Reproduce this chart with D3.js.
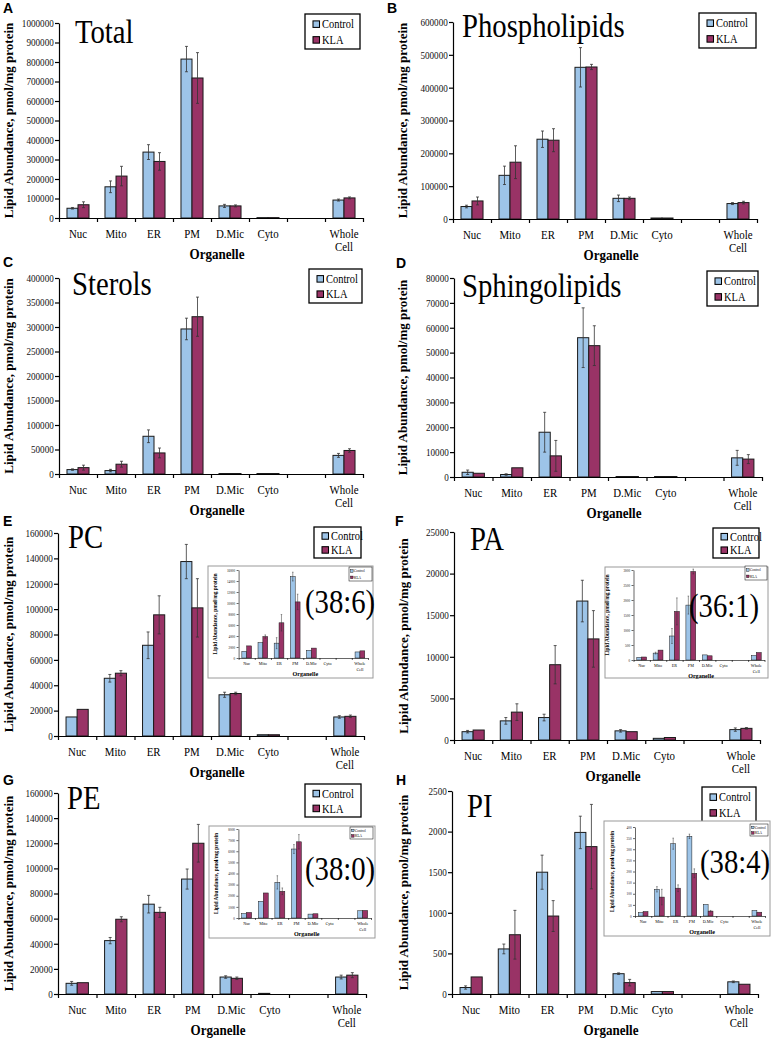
<!DOCTYPE html>
<html><head><meta charset="utf-8">
<script src="https://cdn.jsdelivr.net/npm/d3@7"></script>
<style>body{margin:0;background:#fff}svg{display:block}</style>
</head><body>
<svg id="chart" width="771" height="1038"></svg>
<script>
// ---------------- DATA ----------------
const categories = ["Nuc","Mito","ER","PM","D.Mic","Cyto","","Whole Cell"];
const seriesNames = ["Control","KLA"];

// A Total
const totalControl    = [50000,160000,338000,815000,62000,2000,null,92000];
const totalControlErr = [4000,30000,38000,65000,8000,0,null,5000];
const totalKLA        = [68000,215000,290000,718000,62000,2000,null,103000];
const totalKLAErr     = [15000,50000,45000,130000,5000,0,null,5000];
const totalTicks = [0,100000,200000,300000,400000,500000,600000,700000,800000,900000,1000000];

// B Phospholipids
const phosControl    = [38000,133000,243000,462000,63000,3000,null,47000];
const phosControlErr = [4000,28000,25000,60000,10000,0,null,3000];
const phosKLA        = [55000,173000,240000,463000,63000,3000,null,50000];
const phosKLAErr     = [12000,50000,35000,8000,4000,0,null,4000];
const phosTicks = [0,100000,200000,300000,400000,500000,600000];

// C Sterols
const sterolControl    = [9000,7000,77000,296000,1000,1000,null,38000];
const sterolControlErr = [1500,2500,13000,22000,0,0,null,4000];
const sterolKLA        = [13000,20000,43000,321000,1000,1000,null,48000];
const sterolKLAErr     = [5000,6000,10000,40000,0,0,null,3500];
const sterolTicks = [0,50000,100000,150000,200000,250000,300000,350000,400000];

// D Sphingolipids
const sphingoControl    = [1900,1000,18000,56000,200,200,null,7700];
const sphingoControlErr = [900,300,8000,12000,0,0,null,3000];
const sphingoKLA        = [1500,3700,8500,52800,200,200,null,7200];
const sphingoKLAErr     = [0,0,6200,8000,0,0,null,1800];
const sphingoTicks = [0,10000,20000,30000,40000,50000,60000,70000,80000];

// E PC
const pcControl    = [15000,45500,71500,137500,32500,1000,null,15000];
const pcControlErr = [0,3000,10500,13500,2000,0,null,1000];
const pcKLA        = [21000,49500,95500,101000,33500,1000,null,15500];
const pcKLAErr     = [0,2000,15000,23000,1000,0,null,1000];
const pcTicks = [0,20000,40000,60000,80000,100000,120000,140000,160000];
// E inset PC (38:6)
const pc386Control    = [1200,2800,2700,14800,1400,0,null,1100];
const pc386ControlErr = [0,0,1000,800,0,0,null,0];
const pc386KLA        = [2200,3900,6400,10200,1800,0,null,1300];
const pc386KLAErr     = [0,300,1500,1400,0,0,null,0];
const pc386Ticks = [0,2000,4000,6000,8000,10000,12000,14000,16000];

// F PA
const paControl    = [1000,2300,2700,16700,1100,200,null,1250];
const paControlErr = [150,400,400,2500,150,0,null,200];
const paKLA        = [1200,3350,9050,12150,1000,300,null,1400];
const paKLAErr     = [0,1000,2300,3400,0,0,null,100];
const paTicks = [0,5000,10000,15000,20000,25000];
// F inset PA (36:1)
const pa361Control    = [90,230,800,1830,170,0,null,150];
const pa361ControlErr = [0,30,250,300,0,0,null,0];
const pa361KLA        = [100,330,1620,2950,140,0,null,250];
const pa361KLAErr     = [0,0,450,80,0,0,null,0];
const pa361Ticks = [0,500,1000,1500,2000,2500,3000];

// G PE
const peControl    = [8500,42500,71500,91500,13500,500,null,13500];
const peControlErr = [1500,2500,7000,8000,1000,0,null,1500];
const peKLA        = [9000,59500,65000,120000,12500,0,null,15000];
const peKLAErr     = [0,2000,4000,15000,1000,0,null,2000];
const peTicks = [0,20000,40000,60000,80000,100000,120000,140000,160000];
// G inset PE (38:0)
const pe380Control    = [400,1500,3200,6200,350,0,null,650];
const pe380ControlErr = [0,0,600,400,0,0,null,0];
const pe380KLA        = [500,2250,2400,6850,380,0,null,680];
const pe380KLAErr     = [0,0,300,650,0,0,null,0];
const pe380Ticks = [0,1000,2000,3000,4000,5000,6000,7000,8000];

// H PI
const piControl    = [80,555,1500,1990,250,30,null,150];
const piControlErr = [20,60,210,200,10,0,null,10];
const piKLA        = [210,730,960,1815,140,30,null,120];
const piKLAErr     = [0,300,190,520,40,0,null,0];
const piTicks = [0,500,1000,1500,2000,2500];
// H inset PI (38:4)
const pi384Control    = [15,120,325,358,52,0,null,25];
const pi384ControlErr = [0,12,25,10,0,0,null,0];
const pi384KLA        = [20,85,125,192,22,0,null,17];
const pi384KLAErr     = [0,35,15,20,3,0,null,0];
const pi384Ticks = [0,50,100,150,200,250,300,350,400];

// ---------------- STYLE / LAYOUT ----------------
const COLORS = ["#9dc4e8", "#993366"];
const SERIF = "'Liberation Serif','Times New Roman',Times,serif";
const SANS = "'Liberation Sans',Arial,Helvetica,sans-serif";
const SX = 0.87;
const svg = d3.select("#chart");

function htext(g, x, y, str, size, opts = {}) {
  return g.append("text")
    .attr("transform", `translate(${x},${y}) scale(${SX},1)`)
    .attr("font-family", opts.family || SERIF)
    .attr("font-size", size)
    .attr("font-weight", opts.weight || "normal")
    .attr("text-anchor", opts.anchor || "start")
    .attr("fill", opts.fill || "#000")
    .text(str);
}

const MAIN = {tickFont:10.5, tickSize:4, catFont:12.5, catOff:20, catLine:13, orgFont:15, orgOff:41,
  yTitleFont:13, barFrac:0.29, stroke:1, errW:0.8, cap:3, axisW:1.2, xTick:4};
const INSET = {tickFont:3.8, tickSize:2, catFont:4.8, catOff:7, catLine:5.5, orgFont:7, orgOff:17.5,
  yTitleFont:5.4, barFrac:0.3, stroke:0.5, errW:0.5, cap:1.5, axisW:0.6, xTick:2};

function drawPlot(p, S) {
  const g = svg.append("g");
  const idx = d3.range(categories.length);
  const x = d3.scaleBand().domain(idx).range([p.x0, p.x1]).padding(0);
  const xb = d3.scaleLinear().domain([0, categories.length]).range([p.x0, p.x1]);
  const y = d3.scaleLinear().domain([0, d3.max(p.ticks)]).range([p.yBot, p.yTop]);
  const bw = x.bandwidth() * S.barFrac;

  // bars
  const series = [{v:p.ctrl, e:p.ctrlErr, off:-bw, c:COLORS[0]}, {v:p.kla, e:p.klaErr, off:0, c:COLORS[1]}];
  series.forEach(s => {
    const data = idx.filter(i => s.v[i] != null).map(i => ({i, v:s.v[i], e:s.e[i]}));
    g.selectAll(null).data(data).enter().append("rect")
      .attr("x", d => x(d.i) + x.bandwidth()/2 + s.off)
      .attr("y", d => y(d.v))
      .attr("width", bw)
      .attr("height", d => Math.max(0, y(0) - y(d.v)))
      .attr("fill", s.c).attr("stroke", "#1a1a1a").attr("stroke-width", S.stroke);
    const ed = data.filter(d => d.e > 0);
    const cx = d => x(d.i) + x.bandwidth()/2 + s.off + bw/2;
    g.selectAll(null).data(ed).enter().append("line")
      .attr("x1", cx).attr("x2", cx)
      .attr("y1", d => y(d.v - d.e)).attr("y2", d => y(d.v + d.e))
      .attr("stroke", "#333").attr("stroke-width", S.errW);
    ["-", "+"].forEach(sg => {
      g.selectAll(null).data(ed).enter().append("line")
        .attr("x1", d => cx(d) - S.cap/2).attr("x2", d => cx(d) + S.cap/2)
        .attr("y1", d => y(sg === "+" ? d.v + d.e : d.v - d.e))
        .attr("y2", d => y(sg === "+" ? d.v + d.e : d.v - d.e))
        .attr("stroke", "#333").attr("stroke-width", S.errW);
    });
  });

  // y axis
  const ya = g.append("g").attr("transform", `translate(${p.x0},0)`)
    .call(d3.axisLeft(y).tickValues(p.ticks).tickSize(S.tickSize).tickSizeOuter(0).tickFormat(d3.format("d")));
  ya.select(".domain").attr("stroke", "#000").attr("stroke-width", S.axisW);
  ya.selectAll(".tick line").attr("stroke", "#000").attr("stroke-width", S.axisW);
  ya.selectAll(".tick text").attr("font-family", SERIF).attr("font-size", S.tickFont)
    .attr("fill", "#111").attr("x", -(S.tickSize + 2)).attr("transform", `scale(${SX},1)`);

  // x axis
  const xa = g.append("g").attr("transform", `translate(0,${p.yBot})`)
    .call(d3.axisBottom(xb).tickValues(d3.range(categories.length + 1)).tickSize(S.xTick).tickSizeOuter(0).tickFormat(""));
  xa.select(".domain").attr("stroke", "#000").attr("stroke-width", S.axisW);
  xa.selectAll(".tick line").attr("stroke", "#000").attr("stroke-width", S.axisW);

  // category labels
  idx.forEach(i => {
    const parts = categories[i] === "" ? [] : (categories[i] === "Whole Cell" ? ["Whole", "Cell"] : [categories[i]]);
    parts.forEach((t, k) => htext(g, x(i) + x.bandwidth()/2, p.yBot + S.catOff + k * S.catLine, t, S.catFont, {anchor:"middle"}));
  });
  htext(g, (p.x0 + p.x1)/2 + (p.orgDx || 0), p.yBot + S.orgOff, "Organelle", S.orgFont, {anchor:"middle", weight:"bold"});

  // y title
  g.append("text")
    .attr("transform", `translate(${p.ytx},${(p.yTop + p.yBot)/2}) rotate(-90)`)
    .attr("font-family", SERIF).attr("font-weight", "bold").attr("font-size", S.yTitleFont)
    .attr("text-anchor", "middle").text("Lipid Abundance, pmol/mg protein");

  // legend
  const L = p.legend;
  g.append("rect").attr("x", L.x).attr("y", L.y).attr("width", L.w).attr("height", L.h)
    .attr("fill", "#fff").attr("stroke", "#000").attr("stroke-width", L.sw);
  seriesNames.forEach((nm, k) => {
    const cy = L.y + L.h * (k === 0 ? 0.29 : 0.74);
    g.append("rect").attr("x", L.x + L.sq0).attr("y", cy - L.sq/2).attr("width", L.sq).attr("height", L.sq)
      .attr("fill", COLORS[k]).attr("stroke", "#000").attr("stroke-width", L.sw * 0.8);
    htext(g, L.x + L.tx, cy + L.fs * 0.35, nm, L.fs);
  });
  return g;
}

const panels = [
  {letter:"A", lx:3, ly:13, title:"Total", tx:75, ty:43,
   x0:59, x1:363, yTop:23, yBot:218, ytx:13, orgDx:6,
   ctrl:totalControl, ctrlErr:totalControlErr, kla:totalKLA, klaErr:totalKLAErr, ticks:totalTicks,
   legend:{x:305, y:14, w:55, h:35}},
  {letter:"B", lx:387, ly:13, title:"Phospholipids", tx:462, ty:37,
   x0:453, x1:757, yTop:22, yBot:219, ytx:407, orgDx:6,
   ctrl:phosControl, ctrlErr:phosControlErr, kla:phosKLA, klaErr:phosKLAErr, ticks:phosTicks,
   legend:{x:699, y:13, w:57, h:35}},
  {letter:"C", lx:3, ly:267, title:"Sterols", tx:72, ty:295,
   x0:59, x1:363, yTop:278, yBot:474, ytx:13, orgDx:6,
   ctrl:sterolControl, ctrlErr:sterolControlErr, kla:sterolKLA, klaErr:sterolKLAErr, ticks:sterolTicks,
   legend:{x:309, y:269, w:53, h:34}},
  {letter:"D", lx:396, ly:268, title:"Sphingolipids", tx:462, ty:297,
   x0:454, x1:762, yTop:278, yBot:477, ytx:407, orgDx:6,
   ctrl:sphingoControl, ctrlErr:sphingoControlErr, kla:sphingoKLA, klaErr:sphingoKLAErr, ticks:sphingoTicks,
   legend:{x:707, y:271, w:51, h:35}},
  {letter:"E", lx:3, ly:526, title:"PC", tx:68, ty:548,
   x0:58, x1:364, yTop:533, yBot:736, ytx:13, orgDx:6,
   ctrl:pcControl, ctrlErr:pcControlErr, kla:pcKLA, klaErr:pcKLAErr, ticks:pcTicks,
   legend:{x:314, y:527, w:47, h:31},
   inset:{box:{x:208, y:566, w:165, h:112}, label:"(38:6)", lbx:305, lby:613,
     x0:238.6, x1:368, yTop:570, yBot:658, ytx:217,
     ctrl:pc386Control, ctrlErr:pc386ControlErr, kla:pc386KLA, klaErr:pc386KLAErr, ticks:pc386Ticks,
     legend:{x:349, y:567, w:23, h:14}}},
  {letter:"F", lx:395, ly:526, title:"PA", tx:470, ty:550,
   x0:454, x1:760, yTop:532, yBot:740, ytx:408, orgDx:6,
   ctrl:paControl, ctrlErr:paControlErr, kla:paKLA, klaErr:paKLAErr, ticks:paTicks,
   legend:{x:713, y:528, w:46, h:30},
   inset:{box:{x:605, y:567, w:163, h:111}, label:"(36:1)", lbx:689, lby:617,
     x0:633.5, x1:764.5, yTop:570, yBot:660, ytx:609,
     ctrl:pa361Control, ctrlErr:pa361ControlErr, kla:pa361KLA, klaErr:pa361KLAErr, ticks:pa361Ticks,
     legend:{x:745, y:566, w:22, h:14}}},
  {letter:"G", lx:3, ly:785, title:"PE", tx:67, ty:809,
   x0:58, x1:366, yTop:793, yBot:994, ytx:13, orgDx:6,
   ctrl:peControl, ctrlErr:peControlErr, kla:peKLA, klaErr:peKLAErr, ticks:peTicks,
   legend:{x:305, y:784, w:56, h:33},
   inset:{box:{x:209, y:826, w:166, h:112}, label:"(38:0)", lbx:305, lby:880,
     x0:238.4, x1:371, yTop:829, yBot:918, ytx:218,
     ctrl:pe380Control, ctrlErr:pe380ControlErr, kla:pe380KLA, klaErr:pe380KLAErr, ticks:pe380Ticks,
     legend:{x:350, y:827, w:23, h:12}}},
  {letter:"H", lx:396, ly:785, title:"PI", tx:467, ty:817,
   x0:452, x1:758, yTop:791, yBot:994, ytx:408, orgDx:6,
   ctrl:piControl, ctrlErr:piControlErr, kla:piKLA, klaErr:piKLAErr, ticks:piTicks,
   legend:{x:702, y:787, w:54, h:35},
   inset:{box:{x:604, y:821, w:166, h:115}, label:"(38:4)", lbx:700, lby:873,
     x0:635, x1:765, yTop:827, yBot:916, ytx:614,
     ctrl:pi384Control, ctrlErr:pi384ControlErr, kla:pi384KLA, klaErr:pi384KLAErr, ticks:pi384Ticks,
     legend:{x:750, y:824, w:18, h:12}}}
];

panels.forEach(p => {
  p.legend = Object.assign({sw:1.3, sq:6.5, sq0:8, tx:17, fs:12}, p.legend);
  drawPlot(p, MAIN);
  // panel letter
  svg.append("text").attr("x", p.lx).attr("y", p.ly).attr("font-family", SANS)
    .attr("font-weight", "bold").attr("font-size", 14).text(p.letter);
  // big title
  htext(svg, p.tx, p.ty, p.title, 33);

  if (p.inset) {
    const I = p.inset;
    svg.append("rect").attr("x", I.box.x).attr("y", I.box.y).attr("width", I.box.w).attr("height", I.box.h)
      .attr("fill", "#fff").attr("stroke", "#9a9a9a").attr("stroke-width", 1);
    I.legend = Object.assign({sw:0.5, sq:2.6, sq0:1.5, tx:5, fs:4}, I.legend);
    I.orgDx = 2;
    drawPlot(I, INSET);
    htext(svg, I.lbx, I.lby, I.label, 33);
  }
});
</script>
</body></html>
